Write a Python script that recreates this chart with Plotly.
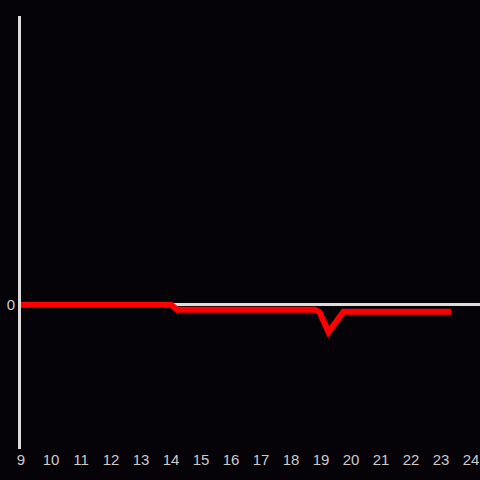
import plotly.graph_objects as go

hours = [9, 10, 11, 12, 13, 14, 14.2, 15, 16, 17, 18, 18.8, 18.95, 19.25, 19.75, 20, 21, 22, 23.33]
values = [0, 0, 0, 0, 0, 0, -0.2, -0.2, -0.2, -0.2, -0.2, -0.2, -0.3, -1.1, -0.28, -0.28, -0.28, -0.28, -0.28]
x_ticks = list(range(9, 25))

fig = go.Figure(go.Scatter(x=hours, y=values, mode="lines",
                           line=dict(color="#ff0000", width=6),
                           hoverinfo="skip"))
bg = "#050307"
fig.update_layout(
    width=480, height=480,
    paper_bgcolor=bg, plot_bgcolor=bg,
    margin=dict(l=21, r=0, t=16, b=31),
    showlegend=False,
    font=dict(family="Liberation Sans, Arial, sans-serif", size=15, color="#cccccc"),
    xaxis=dict(range=[9, 24.3], tickvals=x_ticks, showgrid=False, zeroline=False,
               showline=False, ticks="", tickfont=dict(size=15, color="#cccccc")),
    yaxis=dict(range=[-5.8, 11.6], tickvals=[0], showgrid=False, zeroline=True,
               zerolinecolor="#dddddd", zerolinewidth=3, showline=True,
               linecolor="#dddddd", linewidth=3, ticks="",
               tickfont=dict(size=15, color="#cccccc")),
)
fig.write_html("out.html", config={"displayModeBar": False},
               post_script="document.body.style.margin='0';document.body.style.background='%s';" % bg)
